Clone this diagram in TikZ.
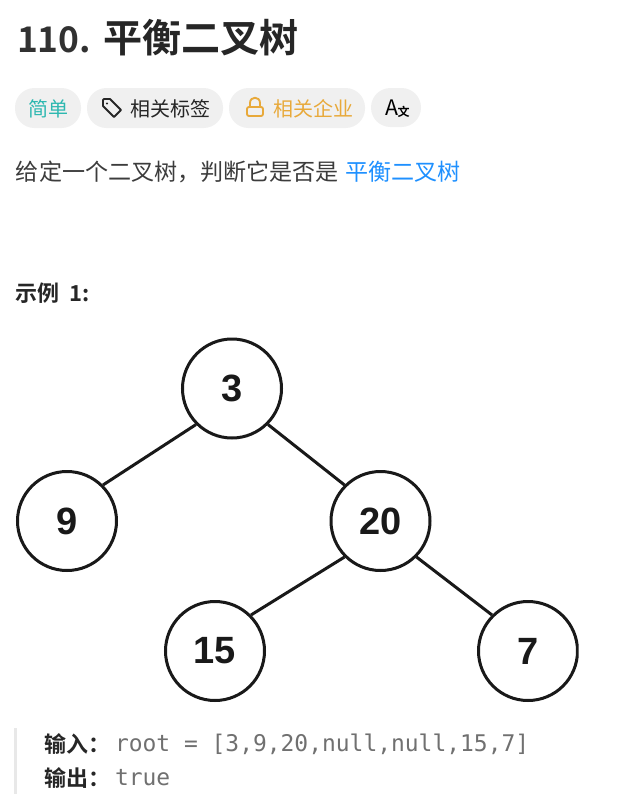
\documentclass[tikz,border=0pt]{standalone}
\usepackage{fontspec}
\setmainfont{Liberation Sans}
\newfontfamily\cjk{Noto Sans CJK SC}
\newfontfamily\cjkb{Noto Sans CJK SC Bold}
\newfontfamily\monof{DejaVu Sans Mono}
\definecolor{ink}{HTML}{262626}
\definecolor{pill}{HTML}{F0F0F0}
\definecolor{easy}{HTML}{2DB8B0}
\definecolor{gold}{HTML}{E8A93A}
\definecolor{linkblue}{HTML}{1E90FF}
\definecolor{codegray}{HTML}{707070}
\definecolor{barcol}{HTML}{E8E8E8}
\tikzset{
  txt/.style={inner sep=0pt,outer sep=0pt,anchor=base west,text=ink},
  pillbox/.style={fill=pill,rounded corners=19.5*0.75pt,draw=none},
  tree/.style={circle,draw=black!90,line width=2.25pt,minimum size=74.25pt,inner sep=0pt,font=\fontsize{28.5}{28.5}\selectfont\bfseries,text=black!90},
  edge/.style={draw=black!90,line width=2.25pt},
}
\begin{document}
\begin{tikzpicture}[x=0.75pt,y=-0.75pt]
\useasboundingbox (0,0) rectangle (620,804);
\fill[white] (0,0) rectangle (620,804);
% title
\node[txt,text=ink!95] (title) at (17,52) {\fontsize{26.5}{30}\cjkb 110.};
\node[txt] (titlecn) at (103,52) {\fontsize{29.3}{30}\cjkb 平衡二叉树};
% pills
\fill[pillbox] (15,88) rectangle (81,128);
\fill[pillbox] (87,88) rectangle (223,128);
\fill[pillbox] (229,88) rectangle (365,128);
\fill[pillbox] (371,88) rectangle (421,127);
\node[txt,text=easy] (easy) at (28,116) {\fontsize{15}{15}\cjk 简单};
\node[txt] (tag) at (130,116) {\fontsize{15}{15}\cjk 相关标签};
\node[txt,text=gold] (comp) at (273,116) {\fontsize{15}{15}\cjk 相关企业};
% tag icon
\draw[ink,line width=1.4pt,line join=round] (103,100) -- (103,106) -- (114,117) -- (121,110) -- (110,99) -- (104,99) -- cycle;
\fill[ink] (107,103.5) circle (1.2);
% lock icon
\draw[gold,line width=1.4pt,rounded corners=1.5pt] (247,107) rectangle (263,116);
\draw[gold,line width=1.4pt] (250,107) -- (250,103) .. controls (250,96) and (260,96) .. (260,103) -- (260,107);
% Ax icon
\node[txt,text=black] (axa) at (385.5,115) {\fontsize{16}{16}\cjk A};
\node[txt,text=black] (axb) at (397.5,116) {\fontsize{9}{9}\cjkb 文};
% description
\node[txt,text=ink!90] (desc) at (16,180) {\fontsize{17.3}{18}\cjk 给定一个二叉树，判断它是否是};
\node[txt,text=linkblue] (link) at (345,180) {\fontsize{17.3}{18}\cjk 平衡二叉树};
% example
\node[txt] (ex) at (16,301) {\fontsize{16.5}{17}\cjkb 示例\hspace{7pt}1:};
% tree
\begin{scope}
\clip (0,330) rectangle (578.5,704);
\node[tree] (n3) at (232,388.5) {3};
\node[tree] (n9) at (67,521) {9};
\node[tree] (n20) at (380.5,521) {20};
\node[tree] (n15) at (215,651) {15};
\node[tree] (n7) at (528,651) {7};
\draw[edge] (n3.225) -- (n9.45);
\draw[edge] (n3.-45) -- (n20.135);
\draw[edge] (n20.225) -- (n15.45);
\draw[edge] (n20.-45) -- (n7.135);
\end{scope}
% quote bar
\fill[barcol] (14,728) rectangle (17,794);
\node[txt] (inl) at (45,752) {\fontsize{16.5}{17}\cjkb 输入：};
\node[txt,text=codegray] (inv) at (115,751) {\fontsize{17.2}{17}\monof root = [3,9,20,null,null,15,7]};
\node[txt] (outl) at (45,786) {\fontsize{16.5}{17}\cjkb 输出：};
\node[txt,text=codegray] (outv) at (115,785) {\fontsize{17.2}{17}\monof true};
\end{tikzpicture}
\end{document}
